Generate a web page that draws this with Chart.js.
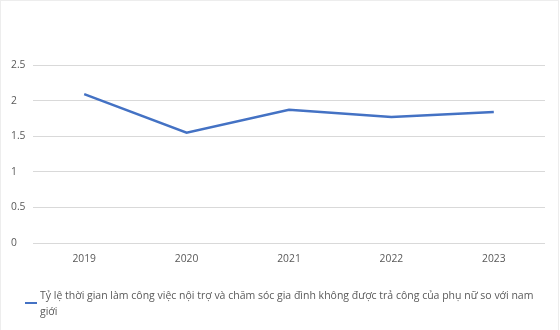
<!DOCTYPE html>
<html>
<head>
<meta charset="utf-8">
<script src="https://cdn.jsdelivr.net/npm/chart.js@4/dist/chart.umd.min.js"></script>
<style>
  html, body { margin: 0; padding: 0; background: #fff; }
  #wrap { position: relative; width: 560px; height: 330px; }
  #wrap::after {
    content: ""; position: absolute; left: 0; top: 0; width: 557px; height: 335px;
    border: 1px solid #ededed; pointer-events: none;
  }
  canvas { position: absolute; left: 0; top: 0; }
  #legend {
    position: absolute; left: 25px; top: 287px; width: 520px;
    font-family: "Open Sans", "Noto Sans", sans-serif; font-size: 10.5px;
    color: #595959; line-height: 16px;
  }
  #legend .swatch {
    position: absolute; left: 0; top: 14.5px; width: 12px; height: 2.5px; background: #4472C4;
  }
  #legend .text { margin-left: 15px; }
</style>
</head>
<body>
<div id="wrap">
  <canvas id="c" width="560" height="330"></canvas>
  <div id="legend"><span class="swatch"></span><div class="text" id="legendText"></div></div>
</div>
<script>
const years = ['2019', '2020', '2021', '2022', '2023'];
const ratio = [2.09, 1.55, 1.87, 1.77, 1.84];
const yTicks = [0, 0.5, 1, 1.5, 2, 2.5];
const seriesName = 'Tỷ lệ thời gian làm công việc nội trợ và chăm sóc gia đình không được trả công của phụ nữ so với nam giới';

document.getElementById('legendText').textContent = seriesName;

const font = { family: '"Open Sans", "Noto Sans", sans-serif', size: 10.3 };

new Chart(document.getElementById('c'), {
  type: 'line',
  data: {
    labels: years,
    datasets: [{
      label: seriesName,
      data: ratio,
      borderColor: '#4472C4',
      borderWidth: 2.5,
      pointRadius: 0,
      tension: 0,
      fill: false
    }]
  },
  options: {
    responsive: false,
    animation: false,
    layout: { padding: { left: 11, right: 15, top: 65, bottom: 60 } },
    plugins: { legend: { display: false }, tooltip: { enabled: false } },
    scales: {
      x: {
        offset: true,
        grid: { display: false },
        border: { display: false },
        ticks: { color: '#595959', font: font, padding: 2, maxRotation: 0 },
        afterFit(s) { s.height = 27; }
      },
      y: {
        min: 0, max: 2.5,
        afterBuildTicks(s) { s.ticks = yTicks.map(v => ({ value: v })); },
        grid: { color: '#d9d9d9', drawTicks: false, lineWidth: 1 },
        border: { display: false },
        ticks: {
          color: '#595959', font: font, padding: 12, crossAlign: 'far',
          callback: v => String(v)
        },
        afterFit(s) { s.width = 22; }
      }
    }
  }
});
</script>
</body>
</html>
